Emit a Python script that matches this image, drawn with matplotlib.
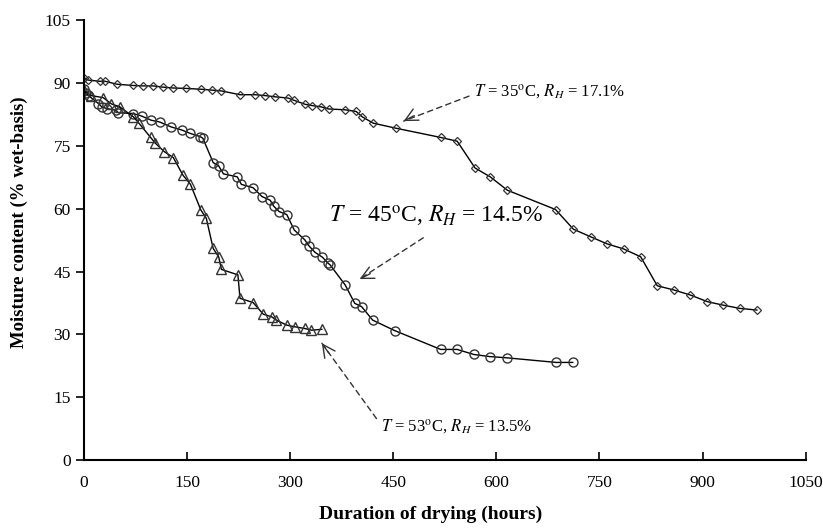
import numpy as np
import matplotlib
matplotlib.use("Agg")
import matplotlib.pyplot as plt

plt.rcParams['font.family'] = 'Liberation Serif'
plt.rcParams['mathtext.fontset'] = 'stix'

# T = 35 C, RH = 17.1 %
t35 = [0, 6, 23, 31, 48, 72, 86, 101, 115, 130, 149, 171, 186, 200, 227, 249, 263, 278, 297,
       305, 322, 332, 345, 356, 380, 396, 405, 421, 454, 519, 543, 569, 591, 616, 686, 712,
       737, 761, 785, 810, 834, 858, 882, 907, 929, 954, 979]
m35 = [91.3, 90.7, 90.4, 90.4, 89.7, 89.4, 89.3, 89.3, 89.0, 88.8, 88.7, 88.5, 88.3, 88.1,
       87.2, 87.2, 87.0, 86.7, 86.4, 85.9, 84.9, 84.6, 84.3, 83.8, 83.6, 83.2, 81.9, 80.4,
       79.2, 77.0, 76.1, 69.7, 67.6, 64.4, 59.8, 55.1, 53.3, 51.6, 50.4, 48.5, 41.6, 40.6,
       39.4, 37.8, 37.0, 36.2, 35.8]

# T = 45 C, RH = 14.5 %
t45 = [0, 3, 8, 21, 26, 33, 46, 50, 72, 84, 98, 110, 127, 142, 154, 169, 173, 188, 196, 203,
       223, 229, 246, 259, 271, 276, 284, 295, 306, 321, 328, 336, 347, 355, 358, 380, 394,
       404, 420, 452, 519, 543, 567, 590, 615, 687, 711]
m45 = [88.5, 87.5, 86.8, 85.1, 84.3, 83.9, 83.5, 82.9, 82.7, 82.1, 81.1, 80.7, 79.5, 78.8,
       78.0, 77.2, 76.8, 71.0, 70.2, 68.3, 67.6, 65.8, 65.0, 62.9, 62.0, 60.6, 59.3, 58.6,
       54.9, 52.6, 51.0, 49.6, 48.4, 47.0, 46.6, 41.8, 37.4, 36.6, 33.4, 30.9, 26.4, 26.4,
       25.2, 24.7, 24.4, 23.3, 23.3]

# T = 53 C, RH = 13.5 %
t53 = [0, 10, 28, 40, 52, 72, 80, 97, 104, 117, 130, 144, 155, 170, 178, 188, 196, 200, 224,
       227, 246, 261, 273, 280, 295, 307, 321, 331, 346]
m53 = [88.3, 87.0, 86.5, 85.0, 84.3, 81.9, 80.4, 77.0, 75.6, 73.6, 72.2, 68.0, 65.8, 59.7,
       57.7, 50.5, 48.5, 45.5, 44.2, 38.6, 37.6, 34.8, 34.2, 33.4, 32.2, 31.8, 31.4, 31.0, 31.2]

fig = plt.figure(figsize=(8.23, 5.30), dpi=100)
ax = fig.add_axes([0.102, 0.132, 0.877, 0.830])

ax.plot(t35, m35, '-', color='k', lw=1, marker='D', ms=4.5, mfc='none', mec='#333333', mew=0.9)
ax.plot(t45, m45, '-', color='k', lw=1, marker='o', ms=6.5, mfc='none', mec='#333333', mew=1)
ax.plot(t53, m53, '-', color='k', lw=1, marker='^', ms=7, mfc='none', mec='#333333', mew=1)

ax.set_xlim(0, 1050)
ax.set_ylim(0, 105)
ax.set_xticks(np.arange(0, 1051, 150))
ax.set_yticks(np.arange(0, 106, 15))
ax.spines['top'].set_visible(False)
ax.spines['right'].set_visible(False)
ax.spines['left'].set_linewidth(1.5)
ax.spines['bottom'].set_linewidth(1.5)
ax.tick_params(axis='x', direction='in', length=6, width=1.2, labelsize=12.5, pad=11)
ax.tick_params(axis='y', direction='out', length=6, width=1.2, labelsize=12.5)

ax.set_xlabel('Duration of drying (hours)', fontsize=14, fontweight='bold')
ax.set_ylabel('Moisture content (% wet-basis)', fontsize=13.5, fontweight='bold')
ax.xaxis.set_label_coords(0.48, -0.103)
ax.yaxis.set_label_coords(-0.078, 0.54)

dash = dict(arrowstyle='-', linestyle=(0, (4, 3)), color='#333333', lw=1,
            shrinkA=2, shrinkB=0)
head = dict(arrowstyle='->, head_length=0.9, head_width=0.45', color='#333333', lw=1,
            shrinkA=0, shrinkB=0)

# (text, tip, text position, font size, anchor on text, back-offset for arrow head)
notes = [
    (r'$T$ = 35$^{\rm o}$C, $R_H$ = 17.1%', (465, 80.9), (568, 87.8), 12, (0, 0.4), (10.6, 5.5)),
    (r'$T$ = 45$^{\rm o}$C, $R_H$ = 14.5%', (401, 43.2), (357, 58.2), 17, (0.45, -0.3), (10.7, 5.4)),
    (r'$T$ = 53$^{\rm o}$C, $R_H$ = 13.5%', (346, 27.9), (432, 8.0), 12, (0, 0.6), (6.9, -9.8)),
]
for txt, tip, pos, fs, rp, back in notes:
    ax.annotate(txt, xy=tip, xytext=pos, fontsize=fs, va='center', ha='left',
                arrowprops=dict(dash, relpos=rp))
    ax.annotate('', xy=tip, xytext=back, textcoords='offset pixels', arrowprops=head)

fig.savefig('out.png', dpi=100)
